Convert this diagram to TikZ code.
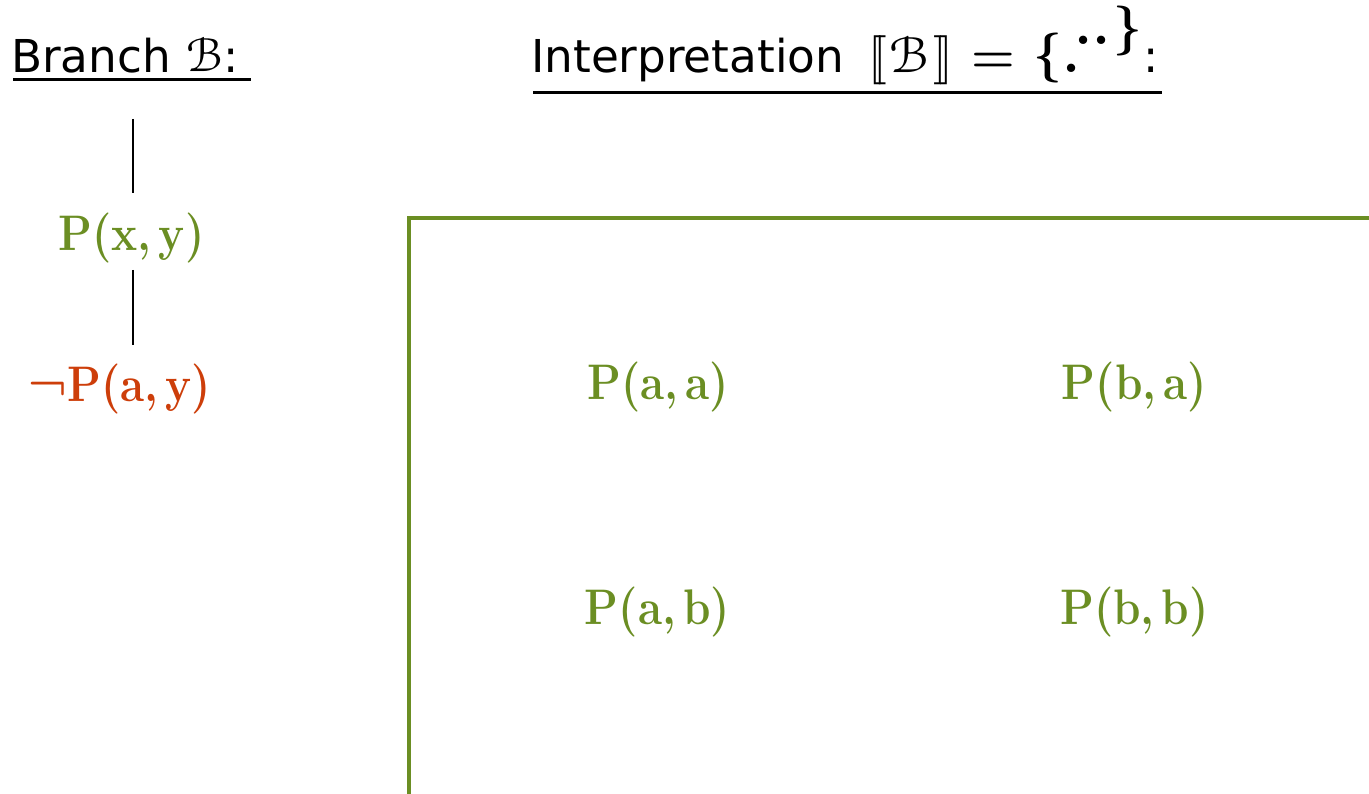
\RequirePackage{fix-cm}
\documentclass[tikz,border=0pt]{standalone}
\usepackage{amsmath}
\usepackage{eucal}
\usepackage{fontspec}
\setmainfont{DejaVu Sans}
\newfontfamily\lmfont{Latin Modern Roman}
\definecolor{grn}{RGB}{107,142,35}
\definecolor{rd}{RGB}{205,62,10}
\newcommand{\mathbig}[3]{{\fontsize{10}{12}\selectfont\scalebox{#1}[#2]{$#3$}}}
\newcommand{\condensed}[1]{\scalebox{0.88}[1]{#1}}
\tikzset{
  title/.style={anchor=base west, inner sep=0pt, font=\fontsize{45.3}{50}\selectfont},
  sym/.style={anchor=base west, inner sep=0pt, font=\fontsize{50}{55}\selectfont\lmfont\bfseries},
  dotstyle/.style={anchor=base west, inner sep=0pt, font=\fontsize{58}{60}\selectfont\lmfont\bfseries},
  uline/.style={line width=3pt},
  branchline/.style={line width=1.8pt},
  frm/.style={draw=grn, line width=3.5pt},
  atom/.style={inner sep=0pt, font=\fontsize{50}{60}\selectfont\lmfont\bfseries},
}
\begin{document}
\begin{tikzpicture}[x=1pt,y=-1pt]
\useasboundingbox (0,0) rectangle (1369,794);
% title 1
\node[title] (t1) at (11,73) {Branch};
\node[title] (b1) at (186,72) {\mathbig{5.0}{4.8}{\mathcal{B}}};
\node[title] (c1) at (223,73) {:};
% title 2
\node[title] (t2) at (531,73) {Interpretation};
\node[title] (lbr) at (868,73) {\mathbig{4.9}{4.9}{[\![}};
\node[title] (b2) at (889,73) {\mathbig{5.4}{5.1}{\mathcal{B}}};
\node[title] (rbr) at (933.5,73) {\mathbig{4.9}{4.9}{]\!]}};
\node[sym, font=\fontsize{50}{55}\selectfont\usefont{OT1}{cmr}{bx}{n}] (eq) at (971,73) {=};
\node[sym] (lb) at (1033,71) {\{};
\node[dotstyle] (d1) at (1062,73) {.};
\node[dotstyle] (d2) at (1074,45) {..};
\node[sym] (rb) at (1113,44) {\}};
\node[title] (c2) at (1143,73) {:};
\coordinate (u1a) at (13,80); \coordinate (u1b) at (251,80);
\coordinate (u2a) at (533,92.5); \coordinate (u2b) at (1162,92.5);
\draw[uline] (u1a) -- (u1b);
\draw[uline] (u2a) -- (u2b);
% branch
\coordinate (top) at (133,119);
\coordinate (mida) at (133,193);
\coordinate (midb) at (133,270);
\coordinate (bot) at (133,345);
\node[atom, text=grn] (pxy) at (131.5,238) {\condensed{P(x,\,y)}};
\node[atom, text=rd] (npay) at (120,389) {\condensed{¬P(a,\,y)}};
\draw[branchline] (top) -- (mida);
\draw[branchline] (midb) -- (bot);
% frame
\coordinate (f1) at (409,800);
\coordinate (f2) at (409,218);
\coordinate (f3) at (1375,218);
\draw[frm] (f1) -- (f2) -- (f3);
% interpretation atoms
\node[atom, text=grn] (paa) at (658,387) {\condensed{P(a,\,a)}};
\node[atom, text=grn] (pba) at (1134.5,387) {\condensed{P(b,\,a)}};
\node[atom, text=grn] (pab) at (657.5,612) {\condensed{P(a,\,b)}};
\node[atom, text=grn] (pbb) at (1134.5,612) {\condensed{P(b,\,b)}};
\end{tikzpicture}
\end{document}
